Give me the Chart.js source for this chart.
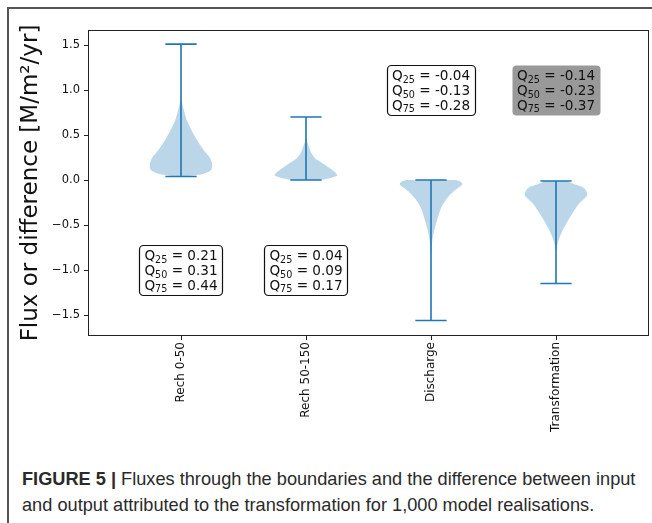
<!DOCTYPE html>
<html>
<head>
<meta charset="utf-8">
<script src="https://cdn.jsdelivr.net/npm/chart.js@4.4.1/dist/chart.umd.min.js"></script>
<style>
  html, body { margin: 0; padding: 0; background: #fff; }
  body { width: 652px; height: 523px; position: relative; overflow: hidden; }
  #frame { position: absolute; left: 7px; top: 7px; width: 660px; height: 530px;
           border-top: 2px solid #555; border-left: 2px solid #555; }
  #chart { position: absolute; left: 0; top: 0; }
  #caption { position: absolute; left: 22px; top: 466px; font-family: "Liberation Sans", Arial, sans-serif;
             font-size: 18.2px; line-height: 26px; color: #2a2a2a; white-space: nowrap; }
</style>
</head>
<body>
<div id="frame"></div>
<canvas id="chart" width="652" height="440"></canvas>
<div id="caption"><b>FIGURE 5 |</b> Fluxes through the boundaries and the difference between input<br>and output attributed to the transformation for 1,000 model realisations.</div>
<script>
const categories = ['Rech 0-50', 'Rech 50-150', 'Discharge', 'Transformation'];
const mins = [0.04, 0.0, -1.56, -1.15];
const maxs = [1.51, 0.70, 0.0, -0.01];

// violin outline: levels (M/m2/yr) and relative density at each level
const levels = [
  [0.04, 0.055, 0.07, 0.095, 0.12, 0.16, 0.2, 0.25, 0.3, 0.37, 0.45, 0.56, 0.65, 0.74, 0.82, 0.9],
  [0.0, 0.02, 0.05, 0.08, 0.11, 0.15, 0.19, 0.24, 0.3, 0.37, 0.43, 0.47],
  [0.0, -0.02, -0.05, -0.08, -0.11, -0.15, -0.2, -0.26, -0.33, -0.44, -0.55, -0.63, -0.72, -0.8, -0.9],
  [-0.01, -0.04, -0.07, -0.1, -0.14, -0.17, -0.21, -0.26, -0.33, -0.44, -0.52, -0.6, -0.67, -0.74, -0.8]
];
const density = [
  [0.2, 0.5, 0.72, 0.9, 0.98, 1.0, 0.98, 0.92, 0.8, 0.65, 0.5, 0.33, 0.2, 0.12, 0.06, 0.0],
  [0.45, 0.75, 1.0, 0.95, 0.85, 0.68, 0.52, 0.3, 0.17, 0.09, 0.03, 0.0],
  [0.8, 0.95, 1.0, 0.9, 0.78, 0.65, 0.52, 0.4, 0.3, 0.2, 0.11, 0.06, 0.03, 0.01, 0.0],
  [0.35, 0.55, 0.8, 0.92, 0.99, 1.0, 0.9, 0.74, 0.6, 0.4, 0.27, 0.16, 0.08, 0.03, 0.0]
];

const q25 = ['0.21', '0.04', '-0.04', '-0.14'];
const q50 = ['0.31', '0.09', '-0.13', '-0.23'];
const q75 = ['0.44', '0.17', '-0.28', '-0.37'];

const yTicks = [-1.5, -1.0, -0.5, 0.0, 0.5, 1.0, 1.5];

const blue = '#1f77b4';
const halfWidth = 0.25;
const capHalf = 0.125;

const datasets = [];
categories.forEach((c, i) => {
  const p = i + 1;
  datasets.push({
    data: [
      {x: p - capHalf, y: mins[i]}, {x: p + capHalf, y: mins[i]}, {x: p, y: null},
      {x: p, y: mins[i]}, {x: p, y: maxs[i]}, {x: p, y: null},
      {x: p - capHalf, y: maxs[i]}, {x: p + capHalf, y: maxs[i]}
    ],
    showLine: true, borderColor: blue, borderWidth: 1.6, pointRadius: 0,
    spanGaps: false, fill: false, order: 0
  });
});
categories.forEach((c, i) => {
  const p = i + 1;
  const right = levels[i].map((v, k) => ({x: p + halfWidth * density[i][k], y: v}));
  const left = levels[i].map((v, k) => ({x: p - halfWidth * density[i][k], y: v})).reverse();
  datasets.push({
    data: right.concat(left),
    showLine: true, borderWidth: 0, borderColor: 'rgba(0,0,0,0)', pointRadius: 0,
    backgroundColor: 'rgba(31,119,180,0.3)', fill: 'shape', tension: 0.3, order: 1
  });
});

const boxes = {
  id: 'boxes',
  afterDraw(chart) {
    const {ctx, chartArea: a, scales: {x, y}} = chart;
    ctx.save();
    ctx.strokeStyle = '#222';
    ctx.lineWidth = 1;
    ctx.strokeRect(a.left + 0.5, a.top + 0.5, a.right - a.left - 1, a.bottom - a.top - 1);

    const big = '13.6px "DejaVu Sans"';
    const small = '9.6px "DejaVu Sans"';
    categories.forEach((c, i) => {
      const cx = x.getPixelForValue(i + 1);
      const cy = y.getPixelForValue(i < 2 ? -1.0 : 1.0);
      const rows = [['25', q25[i]], ['50', q50[i]], ['75', q75[i]]].map(([s, v]) => {
        ctx.font = big;
        const wQ = ctx.measureText('Q').width;
        const wR = ctx.measureText(' = ' + v).width;
        ctx.font = small;
        const wS = ctx.measureText(s).width;
        return {s, v, wQ, wS, wR, w: wQ + wS + wR};
      });
      const tw = Math.max(...rows.map(r => r.w));
      const bw = tw + 10, bh = 50;
      ctx.beginPath();
      ctx.roundRect(Math.round(cx - bw / 2) + 0.5, Math.round(cy - bh / 2) + 0.5, Math.round(bw), bh, 4);
      if (i === 3) {
        ctx.fillStyle = '#999999';
        ctx.fill();
      } else {
        ctx.fillStyle = '#fff';
        ctx.fill();
        ctx.strokeStyle = '#111';
        ctx.lineWidth = 1.2;
        ctx.stroke();
      }
      ctx.fillStyle = '#111';
      ctx.textBaseline = 'alphabetic';
      ctx.textAlign = 'left';
      rows.forEach((r, k) => {
        const base = cy - 14.7 + k * 14.7 + 5;
        let tx = cx - r.w / 2;
        ctx.font = big;
        ctx.fillText('Q', tx, base);
        tx += r.wQ;
        ctx.font = small;
        ctx.fillText(r.s, tx, base + 2.5);
        tx += r.wS;
        ctx.font = big;
        ctx.fillText(' = ' + r.v, tx, base);
      });
    });
    ctx.restore();
  }
};

new Chart(document.getElementById('chart'), {
  type: 'scatter',
  data: {datasets},
  options: {
    responsive: false,
    animation: false,
    devicePixelRatio: 1,
    layout: {padding: {left: 0, right: 3, top: 30, bottom: 0}},
    plugins: {legend: {display: false}, tooltip: {enabled: false}},
    scales: {
      x: {
        type: 'linear', min: 0.256, max: 4.744,
        afterBuildTicks: s => { s.ticks = categories.map((c, i) => ({value: i + 1})); },
        afterFit: s => { s.height = 104; },
        border: {display: false},
        grid: {drawOnChartArea: false, tickLength: 4, tickColor: '#222'},
        ticks: {
          autoSkip: false, minRotation: 90, maxRotation: 90, padding: 2, color: '#111',
          font: {family: 'DejaVu Sans', size: 12},
          callback: v => categories[Math.round(v) - 1]
        }
      },
      y: {
        min: -1.733, max: 1.667,
        afterBuildTicks: s => { s.ticks = yTicks.map(v => ({value: v})); },
        afterFit: s => { s.width = 88; },
        border: {display: false},
        grid: {drawOnChartArea: false, tickLength: 4, tickColor: '#222'},
        ticks: {
          padding: 4, color: '#111',
          font: {family: 'DejaVu Sans', size: 11.5},
          callback: v => v.toFixed(1).replace('-', '\u2212')
        },
        title: {
          display: true, text: 'Flux or difference [M/m\u00b2/yr]', color: '#111',
          font: {family: 'DejaVu Sans', size: 23}, padding: {top: 17, bottom: 0}
        }
      }
    }
  },
  plugins: [boxes]
});
</script>
</body>
</html>
